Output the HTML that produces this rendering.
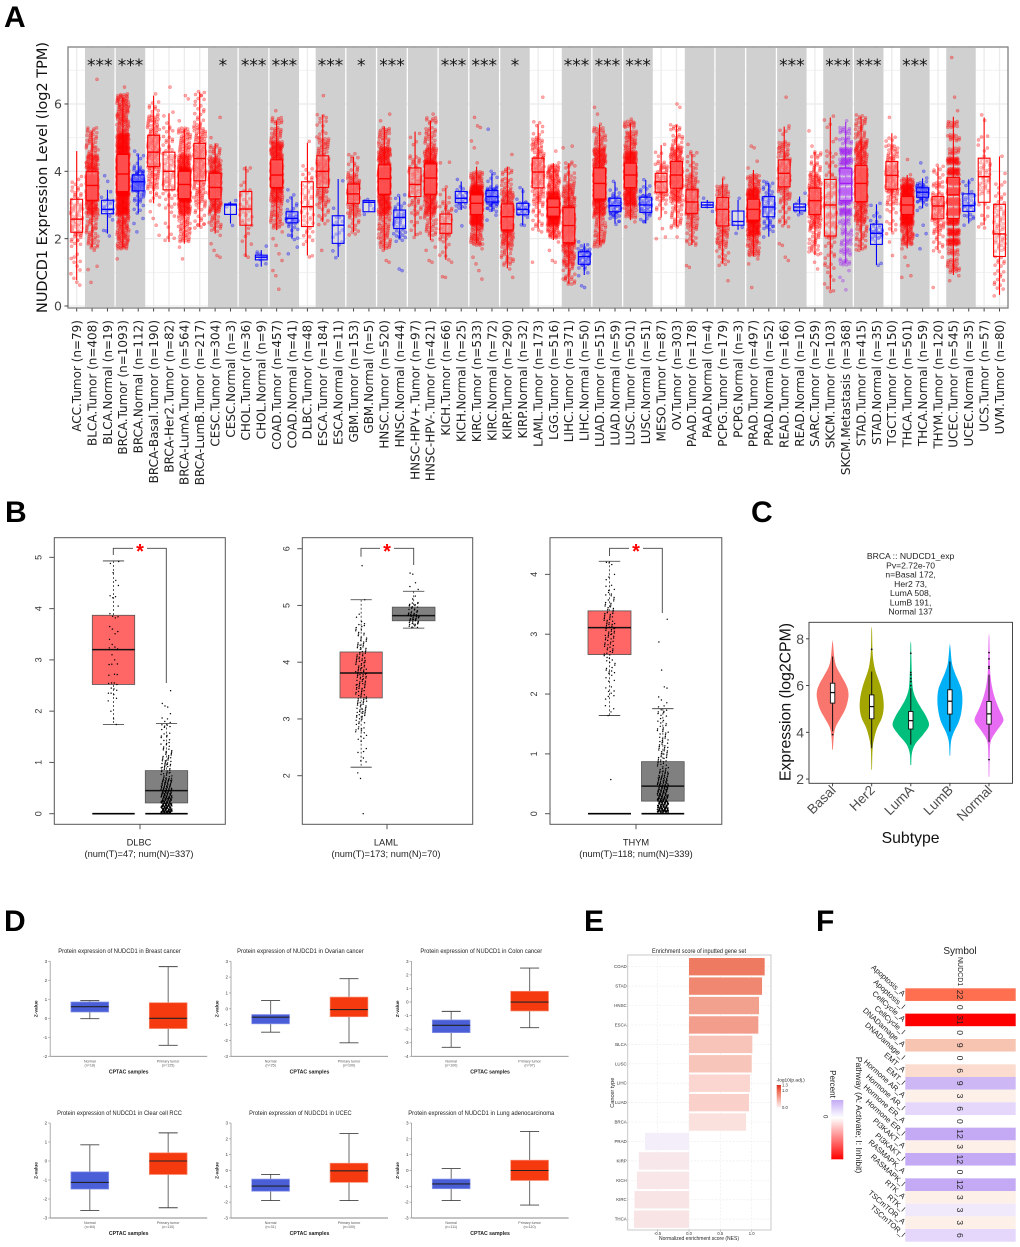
<!DOCTYPE html>
<html lang="en">
<head>
<meta charset="utf-8">
<title>NUDCD1 expression figure</title>
<style>
html,body{margin:0;padding:0;background:#fff}
svg{display:block}
.letter{font-family:"Liberation Sans",sans-serif;font-weight:700;font-size:30px;fill:#000}
</style>
</head>
<body>
<svg id="fig" xmlns="http://www.w3.org/2000/svg" width="1020" height="1247" viewBox="0 0 1020 1247">
<rect x="0" y="0" width="1020" height="1247" fill="#fff"/>
<text class="letter" x="4" y="27">A</text>
<text class="letter" x="5" y="522">B</text>
<text class="letter" x="751" y="522">C</text>
<text class="letter" x="4" y="931">D</text>
<text class="letter" x="584" y="931">E</text>
<text class="letter" x="816" y="931">F</text>
<g id="panelA"></g>
<g id="panelB"></g>
<g id="panelC"></g>
<g id="panelD"></g>
<g id="panelE"></g>
<g id="panelF"></g>
</svg>
<script>
/* ---------- Panel A data ---------- */
const aCategories=['ACC.Tumor','BLCA.Tumor','BLCA.Normal','BRCA.Tumor','BRCA.Normal','BRCA-Basal.Tumor','BRCA-Her2.Tumor','BRCA-LumA.Tumor','BRCA-LumB.Tumor','CESC.Tumor','CESC.Normal','CHOL.Tumor','CHOL.Normal','COAD.Tumor','COAD.Normal','DLBC.Tumor','ESCA.Tumor','ESCA.Normal','GBM.Tumor','GBM.Normal','HNSC.Tumor','HNSC.Normal','HNSC-HPV+.Tumor','HNSC-HPV-.Tumor','KICH.Tumor','KICH.Normal','KIRC.Tumor','KIRC.Normal','KIRP.Tumor','KIRP.Normal','LAML.Tumor','LGG.Tumor','LIHC.Tumor','LIHC.Normal','LUAD.Tumor','LUAD.Normal','LUSC.Tumor','LUSC.Normal','MESO.Tumor','OV.Tumor','PAAD.Tumor','PAAD.Normal','PCPG.Tumor','PCPG.Normal','PRAD.Tumor','PRAD.Normal','READ.Tumor','READ.Normal','SARC.Tumor','SKCM.Tumor','SKCM.Metastasis','STAD.Tumor','STAD.Normal','TGCT.Tumor','THCA.Tumor','THCA.Normal','THYM.Tumor','UCEC.Tumor','UCEC.Normal','UCS.Tumor','UVM.Tumor'];
const aCounts=[79,408,19,1093,112,190,82,564,217,304,3,36,9,457,41,48,184,11,153,5,520,44,97,421,66,25,533,72,290,32,173,516,371,50,515,59,501,51,87,303,178,4,179,3,497,52,166,10,259,103,368,415,35,150,501,59,120,545,35,57,80];
/* box stats: whisker low, q1, median, q3, whisker high */
const aBoxes=[[.77,2.19,2.58,3.17,4.6],[1.75,3.14,3.58,3.99,5.2],[2.15,2.74,2.87,3.14,3.45],[1.75,3.4,3.92,4.5,6.2],[2.75,3.42,3.69,3.89,4.5],[3.05,4.14,4.57,5.07,6.25],[1.9,3.45,4,4.57,5.72],[1.85,3.19,3.61,4,5.25],[2.35,3.72,4.38,4.83,6.35],[2.15,3.18,3.52,3.94,4.83],[2.45,2.72,3,3.03,3.1],[1.46,2.4,2.88,3.4,4.15],[1.17,1.37,1.45,1.51,1.66],[2.25,3.52,3.89,4.34,5.5],[2,2.47,2.6,2.8,3.25],[1.5,2.36,2.95,3.69,4.85],[2.5,3.52,4,4.46,5.67],[1.46,1.86,2.4,2.68,3.77],[2.2,3.05,3.33,3.62,4.43],[2.8,2.8,3.08,3.13,3.15],[1.66,3.32,3.78,4.19,5.33],[2,2.3,2.63,2.85,3.25],[2.08,3.25,3.61,4.1,5.18],[1.96,3.32,3.8,4.22,5.5],[1.37,2.16,2.44,2.73,3.5],[2.85,3.07,3.2,3.4,3.7],[1.86,2.72,3.05,3.3,4.14],[2.8,3.09,3.25,3.43,3.94],[1.12,2.26,2.65,3.03,4.14],[2.4,2.71,2.87,3.05,3.5],[2.3,3.51,3.98,4.39,5.4],[1.96,2.67,2.93,3.18,4.24],[.67,1.88,2.39,2.92,4.24],[.92,1.24,1.47,1.61,1.86],[1.81,3.18,3.64,4.1,5.38],[2.45,2.8,2.98,3.2,3.69],[2.55,3.52,3.89,4.24,5.43],[2.45,2.78,3,3.23,3.74],[2.63,3.38,3.69,3.94,4.78],[2.36,3.5,3.89,4.29,5.38],[1.81,2.75,3.09,3.45,4.51],[2.9,2.93,3,3.08,3.15],[1.27,2.38,2.87,3.22,3.79],[2.26,2.4,2.51,2.82,3.15],[1.47,2.55,2.87,3.17,4.04],[2.06,2.65,2.94,3.25,3.66],[2.4,3.54,3.94,4.34,5.33],[2.75,2.83,2.94,3.03,3.25],[1.51,2.72,3.13,3.5,4.58],[.48,2.08,3,3.76,5.6],[1.27,3.13,3.64,4.09,5.46],[1.66,3.1,3.64,4.17,5.62],[1.22,1.83,2.16,2.43,3.02],[2.2,3.47,3.88,4.29,5.13],[1.71,2.72,3,3.25,3.89],[2.9,3.23,3.38,3.51,3.79],[1.66,2.59,2.97,3.25,4.14],[.92,2.6,3.3,3.82,5.62],[2.45,2.81,2.98,3.33,3.76],[2.4,3.08,3.84,4.39,5.6],[.33,1.47,2.14,3.02,4.44]];
/* jittered sample levels read from the cloud of each group */
const aLevels=[[.62,.78,1,1.2,1.4,1.5,1.85,2,2.2,2.4,2.6,2.8,3,3.2,3.4,3.6,3.8],[.7,1.08,1.18,1.65,1.8,2,2.2,2.4,2.6,2.8,3,3.2,3.4,3.6,3.8,4,4.2,4.4,4.6,4.8,5,5.2,6.73],[2.08,2.2,2.3,2.5,2.7,2.85,2.9,3,3.1,3.15,3.4,3.7,3.87],[1.4,1.8,2,2.2,2.4,2.6,2.8,3,3.2,3.4,3.6,3.8,4,4.2,4.4,4.6,4.8,5,5.2,5.4,5.6,5.8,6,6.2,6.3,6.5],[2.2,2.45,2.6,2.8,3,3.2,3.4,3.5,3.6,3.7,3.8,3.9,4,4.2,4.4,4.6],[2.1,2.4,2.6,2.8,3,3.2,3.4,3.6,3.8,4,4.2,4.4,4.6,4.8,5,5.2,5.4,5.6,5.8,6,6.3],[1.95,2.1,2.4,2.7,3,3.2,3.4,3.6,3.8,4,4.2,4.4,4.6,4.8,5,5.2,5.4,5.7,6.5],[1.4,1.75,2,2.2,2.4,2.6,2.8,3,3.2,3.4,3.6,3.8,4,4.2,4.4,4.6,4.8,5,5.2,5.5,6.15,6.25],[2.35,2.5,2.7,2.9,3.1,3.3,3.5,3.7,3.9,4.1,4.3,4.5,4.7,4.9,5.1,5.3,5.5,5.7,5.9,6.15,6.3],[1.45,1.5,1.65,1.85,2.1,2.3,2.5,2.7,2.9,3.1,3.3,3.5,3.7,3.9,4.1,4.3,4.5,4.7,5,5.6],[2.45,2.98,3.05],[1.45,1.6,1.9,2.1,2.4,2.6,2.8,2.9,3,3.2,3.4,3.6,4,4.15],[1.17,1.3,1.4,1.45,1.5,1.65,1.78],[.5,.9,1.05,1.35,1.55,1.8,2,2.2,2.4,2.6,2.8,3,3.2,3.4,3.6,3.8,4,4.2,4.4,4.6,4.8,5,5.2,5.5,5.8],[1.55,1.75,2,2.1,2.3,2.5,2.6,2.7,2.9,3.1,3.25,3.45],[1.5,1.55,1.9,2.1,2.3,2.5,2.7,2.9,3.1,3.3,3.5,3.7,3.9,4.1,4.8],[1.65,2.5,2.7,2.9,3.1,3.3,3.5,3.7,3.9,4.1,4.3,4.5,4.7,4.9,5.1,5.4,5.65,6.25],[1.46,1.55,1.9,2.1,2.2,2.4,2.6,2.7,2.85,3.75],[2.2,2.4,2.6,2.8,3,3.2,3.4,3.6,3.8,4,4.2,4.43],[2.8,2.85,3.05,3.1,3.15],[1.3,1.35,1.65,1.8,2,2.2,2.4,2.6,2.8,3,3.2,3.4,3.6,3.8,4,4.2,4.4,4.6,4.8,5,5.2,5.5,5.7],[1.05,1.1,2,2.1,2.2,2.4,2.6,2.8,3,3.2,3.3],[2.1,2.2,2.4,2.6,2.8,3,3.2,3.4,3.6,3.8,4,4.2,4.4,4.8,5.1],[1.3,1.35,1.65,1.75,1.95,2.2,2.4,2.6,2.8,3,3.2,3.4,3.6,3.8,4,4.2,4.4,4.6,4.8,5,5.2,5.5,5.7],[.85,.87,1.3,1.4,1.6,1.8,2,2.2,2.4,2.6,2.8,3,3.3,3.5,4.25,4.27],[2.38,2.9,3,3.1,3.2,3.3,3.45,3.6,3.7],[.8,1.05,1.25,1.45,1.7,1.9,2.1,2.3,2.5,2.7,2.9,3.1,3.3,3.5,3.7,3.9,4.25,4.7,4.9,5.3,5.35,5.6],[2.55,2.7,2.9,3,3.1,3.2,3.3,3.4,3.5,3.7,3.9,4,5.25],[.85,1.1,1.3,1.5,1.7,1.9,2.1,2.3,2.5,2.7,2.9,3.1,3.3,3.5,3.7,4,4.5],[2.4,2.5,2.7,2.8,2.9,3,3.1,3.3,3.5],[1.3,2.2,2.3,2.5,2.7,2.9,3.1,3.3,3.5,3.7,3.9,4.1,4.3,4.5,4.7,4.9,5.1,5.4,6.2],[1.3,1.35,1.65,1.9,2.1,2.3,2.5,2.7,2.9,3.1,3.3,3.5,3.7,3.9,4.1,4.25,4.6],[.65,.75,.9,1.1,1.3,1.5,1.7,1.9,2.1,2.3,2.5,2.7,2.9,3.1,3.3,3.5,3.7,3.9,4.2,4.7,4.75],[.55,.6,.9,1,1.2,1.3,1.4,1.5,1.6,1.7,1.85],[1.85,2,2.2,2.4,2.6,2.8,3,3.2,3.4,3.6,3.8,4,4.2,4.4,4.6,4.8,5,5.2,5.4,5.7,5.9],[2.45,2.6,2.7,2.8,2.9,3,3.1,3.2,3.4,3.7],[2.35,2.5,2.7,2.9,3.1,3.3,3.5,3.7,3.9,4.1,4.3,4.5,4.7,4.9,5.1,5.4,5.55],[2.45,2.6,2.8,2.9,3,3.1,3.2,3.3,3.5,3.75],[2,2.05,2.3,2.6,2.8,3,3.2,3.4,3.6,3.8,4,4.2,4.5,4.8],[2.05,2.4,2.6,2.8,3,3.2,3.4,3.6,3.8,4,4.2,4.4,4.6,4.8,5,5.3,5.9,6],[1.15,1.2,1.9,2,2.2,2.4,2.6,2.8,3,3.2,3.4,3.6,3.8,4,4.2,4.5,4.8],[2.9,3,3.05,3.15],[.75,1.3,1.5,1.7,1.9,2.1,2.3,2.5,2.7,2.9,3.1,3.3,3.5,3.8],[2.25,2.4,3.15],[.55,1.25,1.4,1.6,1.8,2,2.2,2.4,2.6,2.8,3,3.2,3.4,3.6,3.8,4.1,4.3,4.7,4.75],[2.05,2.3,2.4,2.6,2.8,3,3.2,3.4,3.6,3.7],[1.35,1.45,1.8,1.85,2.4,2.6,2.8,3,3.2,3.4,3.6,3.8,4,4.2,4.4,4.6,4.8,5.2,5.35,6.2],[2.75,2.85,2.95,3.05,3.25],[1.1,1.3,1.6,1.8,2,2.2,2.4,2.6,2.8,3,3.2,3.4,3.6,3.8,4,4.2,4.5,4.75,5.2],[.45,.5,.7,.9,1.2,1.5,1.8,2.1,2.4,2.7,3,3.3,3.6,3.9,4.2,4.5,4.9,5.3,5.6],[.48,.75,.85,1.05,1.3,1.6,1.9,2.2,2.5,2.8,3.1,3.4,3.7,4,4.3,4.6,4.9,5.2,5.5],[1.65,1.75,2,2.2,2.4,2.6,2.8,3,3.2,3.4,3.6,3.8,4,4.2,4.4,4.6,4.8,5,5.2,5.4,5.6],[1.22,1.25,2,2.1,2.2,2.3,2.5,2.7,2.9,3.05],[1.5,1.9,2.2,2.5,2.8,3.1,3.3,3.5,3.7,3.9,4.1,4.3,4.5,4.7,5,5.6],[.85,.9,1.2,1.45,1.7,1.9,2.1,2.3,2.5,2.7,2.9,3.1,3.3,3.5,3.7,3.9,4.35],[1.7,2.1,2.15,2.4,2.9,3.1,3.2,3.3,3.4,3.5,3.6,3.8,4,4.25],[.55,1.45,1.7,1.9,2.1,2.3,2.5,2.7,2.9,3.1,3.3,3.6,3.9,4.1],[.75,.9,1.1,1.3,1.6,1.9,2.2,2.5,2.8,3.1,3.4,3.7,4,4.3,4.6,5,5.4,5.8,6.2,7.38],[2.4,2.6,2.7,2.9,3,3.1,3.3,3.6,3.75],[2.4,2.6,3,3.4,3.6,3.8,4,4.2,4.4,4.7,5,5.55,5.6],[.3,.6,.8,1,1.2,1.4,1.7,1.9,2.1,2.3,2.5,2.7,2.9,3.1,3.3,3.6,4,4.4]];
const aShadedPairs=[1,3,9,11,13,16,18,20,22,24,26,28,32,34,36,40,42,44,46,49,51,54,57];
const aSigPairs=[1,3,9,11,13,16,18,20,24,26,28,32,34,36,46,49,51,54];
const aSigMarks=['***','***','*','***','***','***','*','***','***','***','*','***','***','***','***','***','***','***'];
const aYTicks=[0,2,4,6];
const aYMinor=[1,3,5,7];

/* ---------- Panel B data ---------- */
const bNames=['DLBC','LAML','THYM'];
const bSubtitles=['(num(T)=47; num(N)=337)','(num(T)=173; num(N)=70)','(num(T)=118; num(N)=339)'];
const bYTicks=[[0,1,2,3,4,5],[2,3,4,5,6],[0,1,2,3,4]];
/* whisker low, q1, median, q3, whisker high */
const bTumorBox=[[1.74,2.52,3.2,3.87,4.93],[2.15,3.37,3.81,4.18,5.1],[1.64,2.66,3.11,3.39,4.22]];
const bNormalBox=[[0,.21,.45,.84,1.76],[4.6,4.73,4.82,4.97,5.25],[0,.21,.46,.87,1.755]];
const bTumorVals=[[1.74,1.85,2,2.2,2.25,2.3,2.35,2.4,2.45,2.5,2.55,2.7,2.72,2.9,2.92,3,3.1,3.2,3.25,3.3,3.4,3.5,3.6,3.65,3.8,3.85,3.9,4.05,4.2,4.25,4.45,4.55,4.7,4.88,4.92],[1.33,1.95,2.05,2.2,2.4,2.6,2.75,2.9,3,3.1,3.2,3.3,3.4,3.5,3.6,3.7,3.8,3.9,4,4.1,4.2,4.3,4.4,4.5,4.6,4.75,5.1,5.7],[.57,1.64,1.7,1.9,2,2.05,2.2,2.3,2.4,2.5,2.6,2.7,2.8,2.9,3,3.1,3.2,3.3,3.4,3.5,3.6,3.7,3.9,4,4.15,4.2]];
const bTumorCounts=[[1,1,1,1,1,2,1,2,1,3,1,2,1,2,1,1,1,2,1,1,1,2,1,1,2,1,1,1,2,1,1,1,1,1,1],[1,1,1,3,3,5,8,6,8,10,10,10,9,10,10,12,11,10,11,9,9,7,6,5,6,2,1,1],[1,1,3,3,2,3,3,6,3,5,6,7,8,9,10,10,9,8,7,6,5,4,2,1,2,1]];
const bNormalVals=[[.02,.05,.1,.15,.2,.25,.3,.35,.4,.45,.5,.55,.6,.65,.7,.8,.9,1,1.1,1.2,1.3,1.4,1.5,1.6,1.7,1.75,1.95,2.08,2.1,2.15,2.4],[4.6,4.65,4.7,4.75,4.8,4.85,4.9,4.95,5,5.05,5.1,5.25,5.4,5.55,5.57],[.02,.05,.1,.15,.2,.25,.3,.35,.4,.45,.5,.55,.6,.65,.7,.8,.9,1,1.1,1.2,1.3,1.4,1.5,1.6,1.7,1.75,1.9,1.95,2.1,2.12,2.4,2.87,3.25]];
const bNormalCounts=[[30,28,26,24,22,20,18,16,15,14,13,12,11,10,9,10,10,9,7,6,6,4,4,3,3,4,1,1,1,1,1],[5,7,8,9,12,7,5,5,5,1,2,2,1,1,1],[30,28,26,24,22,20,18,16,15,14,13,12,11,10,9,10,9,8,8,7,6,5,5,4,4,3,1,1,1,1,1,1,1]];

/* ---------- Panel C data ---------- */
const cSubtypes=['Basal','Her2','LumA','LumB','Normal'];
const cColors=['#F8766D','#A3A500','#00BF7D','#00B0F6','#E76BF3'];
const cYTicks=[2,4,6,8];
const cTitleLines=['BRCA :: NUDCD1_exp','Pv=2.72e-70','n=Basal 172,','Her2 73,','LumA 508,','LumB 191,','Normal 137'];
const cViolinLevels=[[3.25,3.8,4.2,4.6,5,5.4,5.7,6,6.4,6.8,7.2,7.85],[2.4,3.3,3.8,4.2,4.6,5,5.4,5.8,6.2,6.6,7,7.5,8.4],[2.6,3.1,3.5,3.9,4.3,4.7,5.1,5.5,5.9,6.5,7.2,7.8],[3,3.6,4,4.4,4.8,5.3,5.8,6.2,6.6,7,7.7],[2.1,3,3.6,4,4.4,4.6,5,5.5,6,6.5,7.2,8.1]];
const cViolinWidths=[[.3,1,2.5,7,11.5,13.8,14.2,12.5,8,3.5,1.5,.3],[.3,.8,2.5,5,9,10.7,10.5,9,6.5,3.5,1.7,.7,.3],[.4,1,4,11,16.3,13.5,8.5,4,1.7,.9,.5,.3],[.3,1,3.5,7.5,10,11.2,10.5,7.5,4,1.7,.3],[.3,.6,1.5,6,12,12.7,9,5,2.5,1.2,.7,.3]];
const cBoxes=[[4.04,5.25,5.7,6.1,7.24],[3.32,4.58,5.1,5.6,6.6],[3.47,4.14,4.5,4.89,5.89],[4.04,4.78,5.33,5.82,7.03],[3.58,4.35,4.79,5.32,6.46]];
const cOutliers=[[3.9],[7.55],[7.38,6.56,6.46,6.3,6.17,6],[],[7.41,7.14,6.81,6.74,2.83]];

/* ---------- Panel D data ---------- */
const dTitles=['Protein expression of NUDCD1 in Breast cancer','Protein expression of NUDCD1 in Ovarian cancer','Protein expression of NUDCD1 in Colon cancer','Protein expression of NUDCD1 in Clear cell RCC','Protein expression of NUDCD1 in UCEC','Protein expression of NUDCD1 in Lung adenocarcinoma'];
const dTitleWidths=[122.5,126.5,121.8,124.7,102.5,146];
const dYMin=[-2,-3,-4,-3,-3,-3];
const dYMax=[3,3,3,2,3,3];
const dNormalN=[18,25,100,84,31,111];
const dTumorN=[125,100,97,110,100,110];
const dNormalBox=[[-.02,.33,.61,.86,.93],[-1.48,-.95,-.53,-.36,.52],[-3.34,-2.26,-1.72,-1.32,-.69],[-2.6,-1.48,-1.13,-.57,.85],[-1.9,-1.31,-.98,-.54,-.25],[-1.9,-1.15,-.85,-.54,.12]];
const dTumorBox=[[-1.42,-.54,0,.82,2.72],[-2.15,-.5,-.05,.74,1.9],[-1.89,-.66,0,.79,2.5],[-2.46,-.71,0,.43,1.48],[-1.9,-.75,-.02,.46,2.33],[-2.18,-.63,0,.65,2.47]];

/* ---------- Panel E data ---------- */
const eCancers=['COAD','STAD','HNSC','ESCA','BLCA','LUSC','LIHC','LUAD','BRCA','PRAD','KIRP','KICH','KIRC','THCA'];
const eNES=[1.207,1.165,1.117,1.106,1.01,1,.973,.957,.91,-.7,-.8,-.83,-.87,-.878];
const ePadj=[1,.9,.72,.74,.46,.45,.33,.36,.23,0,.12,.14,.17,.17];
const eXTicks=[-.5,0,.5,1];

/* ---------- Panel F data ---------- */
const fPathways=['Apoptosis_A','Apoptosis_I','CellCycle_A','CellCycle_I','DNADamage_A','DNADamage_I','EMT_A','EMT_I','Hormone AR_A','Hormone AR_I','Hormone ER_A','Hormone ER_I','PI3KAKT_A','PI3KAKT_I','RASMAPK_A','RASMAPK_I','RTK_A','RTK_I','TSCmTOR_A','TSCmTOR_I'];
const fPercent=[22,0,31,0,9,0,6,9,3,6,0,12,3,12,0,12,3,3,3,6];

/* ---------- helpers ---------- */
const NS='http://www.w3.org/2000/svg';
function make(parent,tag,attrs,text){
  const e=document.createElementNS(NS,tag);
  for(const k in attrs)e.setAttribute(k,attrs[k]);
  if(text!==undefined)e.textContent=text;
  parent.appendChild(e);
  return e;
}
function frac(v){return v-Math.floor(v);}
function mix(a,b,t){return a.map((c,i)=>Math.round(c+(b[i]-c)*t));}
function css(c){return 'rgb('+c.join(',')+')';}
const LS='"Liberation Sans",sans-serif';
const DJ='"DejaVu Sans",sans-serif';

/* ---------- Panel A ---------- */
(function(){
  const root=document.getElementById('panelA');
  const L=68,R=1008,T=47,B=308;
  const xA=i=>76.7+i*15.38;
  const yA=v=>306-v*33.67;
  const bg=make(root,'rect',{x:L,y:T,width:R-L,height:B-T,fill:'#fff'});
  
  
  aYMinor.forEach(v=>{
    const g=make(root,'line',{x1:L,x2:R,y1:yA(v),y2:yA(v),stroke:'#f1f1f1','stroke-width':1});
    
    
  });
  aYTicks.forEach(v=>{
    const g=make(root,'line',{x1:L,x2:R,y1:yA(v),y2:yA(v),stroke:'#ebebeb','stroke-width':1.3});
    
    
  });
  aCategories.forEach((c,i)=>{
    const g=make(root,'line',{x1:xA(i),x2:xA(i),y1:T,y2:B,stroke:'#ebebeb','stroke-width':1.3});
    
    
  });
  aShadedPairs.forEach(i=>{
    const s=make(root,'rect',{x:xA(i)-7.1,y:T+1,width:15.38+14.1,height:B-T-2,fill:'#d0d0d0'});
    
    
  });
  aSigPairs.forEach((i,k)=>{
    const t=make(root,'text',{x:xA(i)+7.7,y:71,'text-anchor':'middle','font-family':DJ,'font-size':17,fill:'#111'},aSigMarks[k]);
    
    
  });
  let seq=0;
  aCategories.forEach((c,i)=>{
    const color=c.includes('Metastasis')?'160,32,240':(c.includes('Normal')?'0,0,255':'255,0,0');
    const stroke='rgb('+color+')';
    const fill='rgba('+color+',.33)';
    const box=aBoxes[i],lv=aLevels[i],n=aCounts[i];
    const iqr=box[3]-box[1];
    const weight=v=>{
      if(v>=box[1]&&v<=box[3])return 8;
      if(v>=box[1]-iqr*.6&&v<=box[3]+iqr*.6)return 4;
      if(v>=box[0]&&v<=box[4])return 1.5;
      return 0;
    };
    let wsum=0;
    lv.forEach(v=>{wsum+=weight(v);});
    const unit=n/Math.max(1,wsum);
    const grp=make(root,'g',{});
    
    
    lv.forEach(v=>{
      const w=weight(v);
      const cnt=w===0?1:Math.max(1,Math.round(unit*w));
      for(let k=0;k<cnt;k++){
        seq++;
        const dx=(frac(seq*.7548777)-.5)*12;
        const dv=w===0?0:(frac(seq*.5698403)-.5)*.2;
        const p=make(grp,'circle',{cx:(xA(i)+dx).toFixed(1),cy:yA(v+dv).toFixed(1),r:1.6,fill:fill,stroke:fill,'stroke-width':.5});
        
        
      }
    });
    const wh=make(grp,'line',{x1:xA(i),x2:xA(i),y1:yA(box[4]),y2:yA(box[0]),stroke:stroke,'stroke-width':1.1});
    
    
    const rect=make(grp,'rect',{x:xA(i)-5.9,y:yA(box[3]),width:11.8,height:yA(box[1])-yA(box[3]),fill:'rgba(255,255,255,.3)',stroke:stroke,'stroke-width':1.1});
    
    
    const med=make(grp,'line',{x1:xA(i)-5.9,x2:xA(i)+5.9,y1:yA(box[2]),y2:yA(box[2]),stroke:stroke,'stroke-width':1.4});
    
    
    const tick=make(root,'line',{x1:xA(i),x2:xA(i),y1:B,y2:B+3.5,stroke:'#444','stroke-width':1});
    
    
    const lab=make(root,'text',{x:0,y:0,transform:'translate('+(xA(i)+4.3)+',320) rotate(-90)','text-anchor':'end','font-family':DJ,'font-size':12,fill:'#222'},c+' (n='+n+')');
    
    
  });
  const fr=make(root,'rect',{x:L,y:T,width:R-L,height:B-T,fill:'none',stroke:'#7f7f7f','stroke-width':1.3});
  
  
  aYTicks.forEach(v=>{
    const t=make(root,'line',{x1:L-3.5,x2:L,y1:yA(v),y2:yA(v),stroke:'#444','stroke-width':1});
    
    
    const l=make(root,'text',{x:L-6,y:yA(v)+4.6,'text-anchor':'end','font-family':DJ,'font-size':12.5,fill:'#444'},String(v));
    
    
  });
  const yt=make(root,'text',{x:0,y:0,transform:'translate(47,177.5) rotate(-90)','text-anchor':'middle','font-family':DJ,'font-size':14.5,fill:'#111',textLength:271,lengthAdjust:'spacingAndGlyphs'},'NUDCD1 Expression Level (log2 TPM)');
  
  
})();

/* ---------- Panel B ---------- */
const bGeometry=[
 {L:54.3,R:225.3,y0:813.7,v0:0,k:51.27,tL:92.3,tR:134.7,nL:145.3,nR:187.7,brL:113.3,brR:166.3,legL:555,legR:683,star:140,cx:139},
 {L:302.3,R:472.7,y0:775.7,v0:2,k:56.75,tL:340,tR:382.3,nL:392.3,nR:435,brL:361,brR:413.7,legL:556.7,legR:565,star:387,cx:386},
 {L:550,R:721.8,y0:813.7,v0:0,k:59.83,tL:588,tR:631,nL:641.5,nR:684.2,brL:609.5,brR:662.3,legL:556,legR:613,star:636,cx:636}
];
(function(){
  const root=document.getElementById('panelB');
  const T=537.7,B=824.3;
  bNames.forEach((name,i)=>{
    const g=bGeometry[i];
    const yB=v=>g.y0-(v-g.v0)*g.k;
    const grp=make(root,'g',{});
    
    
    const fr=make(grp,'rect',{x:g.L,y:T,width:g.R-g.L,height:B-T,fill:'#fff',stroke:'#555','stroke-width':1});
    
    
    bYTicks[i].forEach(v=>{
      const t=make(grp,'line',{x1:g.L-5,x2:g.L,y1:yB(v),y2:yB(v),stroke:'#555','stroke-width':1});
      
      
      const l=make(grp,'text',{x:0,y:0,transform:'translate('+(g.L-13)+','+yB(v)+') rotate(-90)','text-anchor':'middle','font-family':LS,'font-size':9,fill:'#333'},String(v));
      
      
    });
    [[bTumorBox[i],g.tL,g.tR,'#FF6666','tumor'],[bNormalBox[i],g.nL,g.nR,'#808080','normal']].forEach(s=>{
      const b=s[0],x1=s[1],x2=s[2],cx=(x1+x2)/2;
      const w=make(grp,'line',{x1:cx,x2:cx,y1:yB(b[4]),y2:yB(b[0]),stroke:'#333','stroke-width':.8,'stroke-dasharray':'2 2'});
      
      
      const r=make(grp,'rect',{x:x1,y:yB(b[3]),width:x2-x1,height:yB(b[1])-yB(b[3]),fill:s[3],stroke:'#555','stroke-width':.8});
      
      
      const m=make(grp,'line',{x1:x1,x2:x2,y1:yB(b[2]),y2:yB(b[2]),stroke:'#111','stroke-width':1.5});
      
      
      const capW=(x2-x1)/4;
      const c1=make(grp,'line',{x1:cx-capW,x2:cx+capW,y1:yB(b[4]),y2:yB(b[4]),stroke:'#333','stroke-width':.8});
      
      
      const c2=make(grp,'line',{x1:cx-capW,x2:cx+capW,y1:yB(b[0]),y2:yB(b[0]),stroke:'#333','stroke-width':.8});
      
      
    });
    if(g.v0===0){
      [[g.tL,g.tR],[g.nL,g.nR]].forEach(p=>{
        const z=make(grp,'line',{x1:p[0],x2:p[1],y1:yB(0),y2:yB(0),stroke:'#000','stroke-width':1.6});
        
        
      });
    }
    let seq=i*37;
    [[bTumorVals[i],bTumorCounts[i],(g.tL+g.tR)/2],[bNormalVals[i],bNormalCounts[i],(g.nL+g.nR)/2]].forEach(s=>{
      s[0].forEach((v,j)=>{
        const gap=j<s[0].length-1?Math.min(.12,s[0][j+1]-v):0;
        for(let k=0;k<s[1][j];k++){
          seq++;
          const dx=(frac(seq*.7548777)-.5)*11;
          const dv=s[1][j]>1?frac(seq*.5698403)*gap:0;
          const d=make(grp,'circle',{cx:(s[2]+dx).toFixed(1),cy:yB(v+dv).toFixed(1),r:.7,fill:'#000'});
          
          
        }
      });
    });
    const br=make(grp,'path',{d:'M'+g.brL+' '+g.legL+'V548.3H'+g.brR+'V'+g.legR,fill:'none',stroke:'#444','stroke-width':.9});
    
    
    const mask=make(grp,'rect',{x:g.star-7,y:545,width:14,height:7,fill:'#fff'});
    
    
    const st=make(grp,'text',{x:g.star,y:558,'text-anchor':'middle','font-family':LS,'font-size':20,'font-weight':700,fill:'#f00'},'*');
    
    
    const tk=make(grp,'line',{x1:g.star,x2:g.star,y1:B,y2:B+5,stroke:'#555','stroke-width':1});
    
    
    const l1=make(grp,'text',{x:g.cx,y:845.5,'text-anchor':'middle','font-family':LS,'font-size':9.3,fill:'#222'},name);
    
    
    const l2=make(grp,'text',{x:g.cx,y:856.8,'text-anchor':'middle','font-family':LS,'font-size':9.3,fill:'#222'},bSubtitles[i]);
    
    
  });
})();

/* ---------- Panel C ---------- */
(function(){
  const root=document.getElementById('panelC');
  const L=809,R=1012.5,T=622.3,B=783.3;
  const xC=i=>832.6+i*39.1;
  const yC=v=>732.3-(v-4)*23.37;
  const W=1.115;
  cTitleLines.forEach((s,i)=>{
    const t=make(root,'text',{x:910.6,y:559+i*9.27,'text-anchor':'middle','font-family':LS,'font-size':8.6,fill:'#222'},s);
    
    
  });
  const fr=make(root,'rect',{x:L,y:T,width:R-L,height:B-T,fill:'#fff',stroke:'#333','stroke-width':.9});
  
  
  cYTicks.forEach(v=>{
    const t=make(root,'line',{x1:L-3,x2:L,y1:yC(v),y2:yC(v),stroke:'#333','stroke-width':.9});
    
    
    const l=make(root,'text',{x:L-5,y:yC(v)+5,'text-anchor':'end','font-family':LS,'font-size':14,fill:'#4d4d4d'},String(v));
    
    
  });
  cSubtypes.forEach((name,i)=>{
    const cx=xC(i),lv=cViolinLevels[i],wd=cViolinWidths[i];
    const right=lv.map((v,k)=>[cx+wd[k]*W,yC(v)]);
    const left=lv.map((v,k)=>[cx-wd[k]*W,yC(v)]).reverse();
    const pts=right.concat(left);
    let d='M'+pts[0][0].toFixed(1)+' '+pts[0][1].toFixed(1);
    for(let k=0;k<pts.length-1;k++){
      const p0=pts[Math.max(0,k-1)],p1=pts[k],p2=pts[k+1],p3=pts[Math.min(pts.length-1,k+2)];
      d+='C'+(p1[0]+(p2[0]-p0[0])/6).toFixed(1)+' '+(p1[1]+(p2[1]-p0[1])/6).toFixed(1)+' '+(p2[0]-(p3[0]-p1[0])/6).toFixed(1)+' '+(p2[1]-(p3[1]-p1[1])/6).toFixed(1)+' '+p2[0].toFixed(1)+' '+p2[1].toFixed(1);
    }
    const grp=make(root,'g',{});
    
    
    const vio=make(grp,'path',{d:d+'Z',fill:cColors[i]});
    
    
    const b=cBoxes[i];
    const wh=make(grp,'line',{x1:cx,x2:cx,y1:yC(b[4]),y2:yC(b[0]),stroke:'#111','stroke-width':1});
    
    
    const r=make(grp,'rect',{x:cx-2.2,y:yC(b[3]),width:4.4,height:yC(b[1])-yC(b[3]),fill:'#fff',stroke:'#111','stroke-width':.9});
    
    
    const m=make(grp,'line',{x1:cx-2.2,x2:cx+2.2,y1:yC(b[2]),y2:yC(b[2]),stroke:'#111','stroke-width':1.3});
    
    
    cOutliers[i].forEach(v=>{
      const o=make(grp,'circle',{cx:cx,cy:yC(v),r:.9,fill:'#111'});
      
      
    });
    const t=make(root,'line',{x1:cx,x2:cx,y1:B,y2:B+3,stroke:'#333','stroke-width':.9});
    
    
    const l=make(root,'text',{x:0,y:0,transform:'translate('+(cx+4)+',791) rotate(-45)','text-anchor':'end','font-family':LS,'font-size':13.5,fill:'#4d4d4d'},name);
    
    
  });
  const xt=make(root,'text',{x:910.6,y:843,'text-anchor':'middle','font-family':LS,'font-size':15.8,fill:'#111'},'Subtype');
  
  
  const yt=make(root,'text',{x:0,y:0,transform:'translate(790.5,702) rotate(-90)','text-anchor':'middle','font-family':LS,'font-size':15.8,fill:'#111'},'Expression (log2CPM)');
  
  
})();

/* ---------- Panel D ---------- */
const dColX=[50.2,231,411.6];
const dRowTop=[961.3,1123];
const dTitleX=[119.5,300.4,481.3];
(function(){
  const root=document.getElementById('panelD');
  const AW=157;
  const H=95;
  dTitles.forEach((title,i)=>{
    const col=i%3,row=Math.floor(i/3);
    const x0=dColX[col],top=dRowTop[row],bot=top+H;
    const yD=v=>bot-(v-dYMin[i])/(dYMax[i]-dYMin[i])*H;
    const grp=make(root,'g',{});
    
    
    const tt=make(grp,'text',{x:dTitleX[col],y:top-8.2,'text-anchor':'middle','font-family':LS,'font-size':6.6,fill:'#222',textLength:dTitleWidths[i],lengthAdjust:'spacingAndGlyphs'},title);
    
    
    const ya=make(grp,'line',{x1:x0,x2:x0,y1:top,y2:bot,stroke:'#999','stroke-width':.8});
    
    
    const xa=make(grp,'line',{x1:x0,x2:x0+AW,y1:bot,y2:bot,stroke:'#888','stroke-width':.9});
    
    
    for(let v=dYMin[i];v<=dYMax[i];v++){
      const t=make(grp,'line',{x1:x0-2,x2:x0,y1:yD(v),y2:yD(v),stroke:'#999','stroke-width':.7});
      
      
      const l=make(grp,'text',{x:x0-3,y:yD(v)+1.5,'text-anchor':'end','font-family':LS,'font-size':4.6,fill:'#444'},String(v));
      
      
    }
    const yl=make(grp,'text',{x:0,y:0,transform:'translate('+(x0-12.5)+','+(top+47.5)+') rotate(-90)','text-anchor':'middle','font-family':LS,'font-size':4.8,'font-weight':700,fill:'#222'},'Z-value');
    
    
    const xl=make(grp,'text',{x:x0+AW/2,y:bot+17.2,'text-anchor':'middle','font-family':LS,'font-size':5.2,'font-weight':700,fill:'#222'},'CPTAC samples');
    
    
    [[dNormalBox[i],x0+39.6,'#4A5ED8','#8D99E8','Normal',dNormalN[i],'normal'],[dTumorBox[i],x0+118,'#F53A10','#F88A70','Primary tumor',dTumorN[i],'tumor']].forEach(s=>{
      const b=s[0],cx=s[1];
      const w=make(grp,'line',{x1:cx,x2:cx,y1:yD(b[4]),y2:yD(b[0]),stroke:'#777','stroke-width':1.1});
      
      
      [b[4],b[0]].forEach(v=>{
        const c=make(grp,'line',{x1:cx-9.5,x2:cx+9.5,y1:yD(v),y2:yD(v),stroke:'#444','stroke-width':.9});
        
        
      });
      const r=make(grp,'rect',{x:cx-18.9,y:yD(b[3]),width:37.8,height:yD(b[1])-yD(b[3]),fill:s[2],stroke:s[3],'stroke-width':.7});
      
      
      const m=make(grp,'line',{x1:cx-18.9,x2:cx+18.9,y1:yD(b[2]),y2:yD(b[2]),stroke:'#222','stroke-width':1.1});
      
      
      const n1=make(grp,'text',{x:cx,y:bot+6,'text-anchor':'middle','font-family':LS,'font-size':3.6,fill:'#555'},s[4]);
      
      
      const n2=make(grp,'text',{x:cx,y:bot+10.2,'text-anchor':'middle','font-family':LS,'font-size':3.6,fill:'#555'},'(n='+s[5]+')');
      
      
    });
  });
})();

/* ---------- Panel E ---------- */
(function(){
  const root=document.getElementById('panelE');
  const L=627.7,R=771,T=955,B=1230;
  const xE=v=>689+v*62.7;
  const yE=i=>966.7+i*19.42;
  const title=make(root,'text',{x:699,y:952.8,'text-anchor':'middle','font-family':LS,'font-size':6.4,fill:'#222',textLength:94,lengthAdjust:'spacingAndGlyphs'},'Enrichment score of inputted gene set');
  
  
  eXTicks.forEach(v=>{
    const g=make(root,'line',{x1:xE(v),x2:xE(v),y1:T,y2:B,stroke:'#eee','stroke-width':.7,'stroke-dasharray':'2 1.5'});
    
    
    const t=make(root,'line',{x1:xE(v),x2:xE(v),y1:B,y2:B+1.5,stroke:'#777','stroke-width':.6});
    
    
    const l=make(root,'text',{x:xE(v),y:1234.8,'text-anchor':'middle','font-family':LS,'font-size':4.2,fill:'#333'},v.toFixed(1));
    
    
  });
  const low=[243,238,249],mid=[252,224,220],high=[238,123,97];
  eCancers.forEach((c,i)=>{
    const g=make(root,'line',{x1:L,x2:R,y1:yE(i),y2:yE(i),stroke:'#eee','stroke-width':.7,'stroke-dasharray':'2 1.5'});
    
    
    const t=ePadj[i];
    const col=t<.25?mix(low,mid,t/.25):mix(mid,high,(t-.25)/.75);
    const x0=Math.min(xE(0),xE(eNES[i])),w=Math.abs(xE(eNES[i])-xE(0));
    const r=make(root,'rect',{x:x0,y:yE(i)-8.7,width:w,height:17.4,fill:css(col)});
    
    
    const l=make(root,'text',{x:L-1,y:yE(i)+1.5,'text-anchor':'end','font-family':LS,'font-size':4.4,fill:'#333'},c);
    
    
  });
  const fr=make(root,'rect',{x:L,y:T,width:R-L,height:B-T,fill:'none',stroke:'#c8c8c8','stroke-width':1});
  
  
  const xt=make(root,'text',{x:699,y:1240,'text-anchor':'middle','font-family':LS,'font-size':5.6,fill:'#222',textLength:80,lengthAdjust:'spacingAndGlyphs'},'Normalized enrichment score (NES)');
  
  
  const yt=make(root,'text',{x:0,y:0,transform:'translate(614,1092.7) rotate(-90)','text-anchor':'middle','font-family':LS,'font-size':5.6,fill:'#222'},'Cancer type');
  
  
  const defs=make(root,'defs',{});
  const lg=make(defs,'linearGradient',{id:'eRamp',x1:0,y1:0,x2:0,y2:1});
  make(lg,'stop',{offset:0,'stop-color':'#d7301f'});
  make(lg,'stop',{offset:.25,'stop-color':'#ef6a50'});
  make(lg,'stop',{offset:1,'stop-color':'#fbf4f6'});
  const bar=make(root,'rect',{x:776.7,y:1085,width:4.3,height:22.7,fill:'url(#eRamp)'});
  
  
  const lt=make(root,'text',{x:776.5,y:1081.5,'font-family':LS,'font-size':4.8,fill:'#222'},'-log10(p.adj.)');
  
  
  [['1.3',1086.5],['1.0',1091.8],['0.0',1108.8]].forEach(p=>{
    const t=make(root,'text',{x:782,y:p[1],'font-family':LS,'font-size':4.2,fill:'#333'},p[0]);
    
    
  });
})();

/* ---------- Panel F ---------- */
(function(){
  const root=document.getElementById('panelF');
  const L=905.3,R=1015.7,T=988.3,RH=12.67;
  const yF=i=>T+i*RH;
  const activate=[[0,[255,255,255]],[3,[253,240,232]],[6,[251,220,207]],[9,[247,196,178]],[22,[255,111,80]],[31,[255,0,0]]];
  const inhibit=[[0,[255,255,255]],[3,[240,233,252]],[6,[228,215,251]],[9,[205,184,245]],[12,[196,170,245]]];
  function scale(stops,v){
    for(let k=1;k<stops.length;k++){
      if(v<=stops[k][0])return mix(stops[k-1][1],stops[k][1],(v-stops[k-1][0])/(stops[k][0]-stops[k-1][0]));
    }
    return stops[stops.length-1][1];
  }
  const sym=make(root,'text',{x:960,y:954,'text-anchor':'middle','font-family':LS,'font-size':10,fill:'#222'},'Symbol');
  
  
  const gene=make(root,'text',{x:0,y:0,transform:'translate(957.8,957) rotate(90)','font-family':LS,'font-size':7,fill:'#222'},'NUDCD1');
  
  
  fPathways.forEach((p,i)=>{
    const col=scale(i%2===0?activate:inhibit,fPercent[i]);
    const r=make(root,'rect',{x:L,y:yF(i),width:R-L,height:RH,fill:css(col)});
    
    
    const cy=yF(i)+RH/2;
    const v=make(root,'text',{x:0,y:0,transform:'translate(957,'+cy+') rotate(90)','text-anchor':'middle','font-family':LS,'font-size':8.6,fill:'#222'},String(fPercent[i]));
    
    
    const l=make(root,'text',{x:0,y:0,transform:'translate(902.5,'+(cy+2)+') rotate(42)','text-anchor':'end','font-family':LS,'font-size':7.6,fill:'#222'},p);
    
    
  });
  const pt=make(root,'text',{x:0,y:0,transform:'translate(856,1115) rotate(90)','text-anchor':'middle','font-family':LS,'font-size':8.6,fill:'#222'},'Pathway (A: Activate; I: Inhibit)');
  
  
  const lg=make(root,'text',{x:0,y:0,transform:'translate(830,1084) rotate(90)','text-anchor':'middle','font-family':LS,'font-size':8,fill:'#222'},'Percent');
  
  
  const defs=make(root,'defs',{});
  const g=make(defs,'linearGradient',{id:'fRamp',x1:0,y1:0,x2:0,y2:1});
  make(g,'stop',{offset:0,'stop-color':'#C4AAF5'});
  make(g,'stop',{offset:.3,'stop-color':'#ffffff'});
  make(g,'stop',{offset:1,'stop-color':'#ff0000'});
  const bar=make(root,'rect',{x:831.3,y:1100,width:12,height:59.3,fill:'url(#fRamp)'});
  
  
  const z=make(root,'text',{x:0,y:0,transform:'translate(823.3,1116.7) rotate(90)','text-anchor':'middle','font-family':LS,'font-size':6,fill:'#222'},'0');
  
  
})();
</script>
</body>
</html>
